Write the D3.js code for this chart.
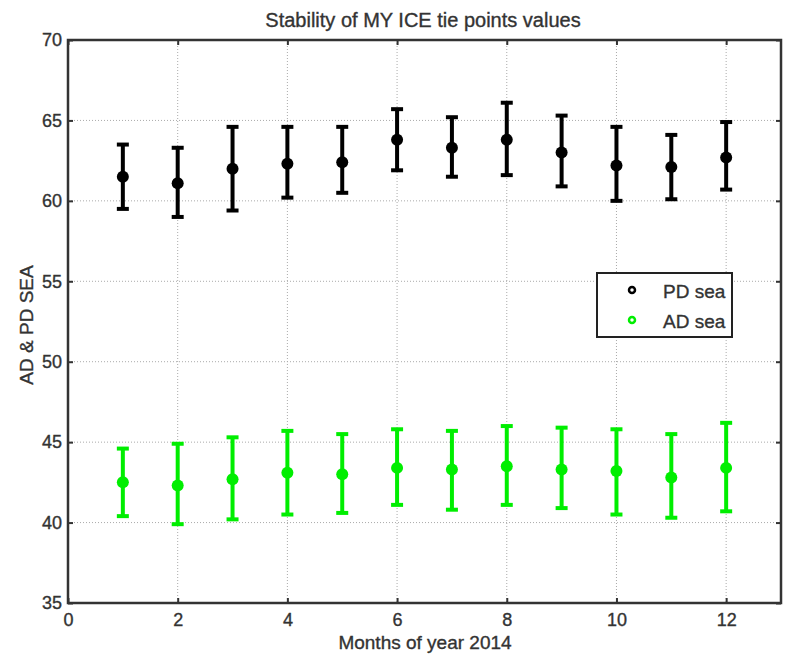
<!DOCTYPE html>
<html>
<head>
<meta charset="utf-8">
<script src="https://cdn.jsdelivr.net/npm/d3@7"></script>
<style>
  body { margin: 0; background: #fff; }
  text { font-family: "Liberation Sans", Arial, sans-serif; fill: #333; stroke: #333; stroke-width: 0.35px; }
</style>
</head>
<body>
<div class="mySvg"></div>
<script>
// months 1..12
const months = [1, 2, 3, 4, 5, 6, 7, 8, 9, 10, 11, 12];

// PD sea: mean, low, high
const pdMean = [61.5, 61.1, 62.0, 62.3, 62.4, 63.8, 63.3, 63.8, 63.0, 62.2, 62.1, 62.7];
const pdLow  = [59.5, 59.0, 59.4, 60.2, 60.5, 61.9, 61.5, 61.6, 60.9, 60.0, 60.1, 60.7];
const pdHigh = [63.5, 63.3, 64.6, 64.6, 64.6, 65.7, 65.2, 66.1, 65.3, 64.6, 64.1, 64.9];

// AD sea: mean, low, high
const adMean = [42.5, 42.3, 42.7, 43.1, 43.0, 43.4, 43.3, 43.5, 43.3, 43.2, 42.8, 43.4];
const adLow  = [40.4, 39.9, 40.2, 40.5, 40.6, 41.1, 40.8, 41.1, 40.9, 40.5, 40.3, 40.7];
const adHigh = [44.6, 44.9, 45.3, 45.7, 45.5, 45.8, 45.7, 46.0, 45.9, 45.8, 45.5, 46.2];

const xTicks = [0, 2, 4, 6, 8, 10, 12];
const yTicks = [35, 40, 45, 50, 55, 60, 65, 70];

const series = [
  {name: 'PD sea', color: '#000', mean: pdMean, low: pdLow, high: pdHigh},
  {name: 'AD sea', color: '#00ee00', mean: adMean, low: adLow, high: adHigh}
];

const W = 789, H = 663;
const margin = {top: 40, right: 8, bottom: 60, left: 68};
const width  = W - margin.left - margin.right;
const height = H - margin.top - margin.bottom;

const svg = d3.select('.mySvg').append('svg')
  .attr('width', W)
  .attr('height', H);

const g = svg.append('g')
  .attr('transform', 'translate(' + margin.left + ',' + margin.top + ')');

const xScale = d3.scaleLinear().domain([0, 13]).range([0, width]);
const yScale = d3.scaleLinear().domain([35, 70]).range([height, 0]);

// grid
g.append('g').selectAll('line')
  .data(xTicks.slice(1))
  .enter().append('line')
  .attr('x1', d => xScale(d)).attr('x2', d => xScale(d))
  .attr('y1', 0).attr('y2', height)
  .attr('stroke', '#aaa').attr('stroke-width', 1).attr('stroke-dasharray', '1,2');

g.append('g').selectAll('line')
  .data(yTicks.slice(1, -1))
  .enter().append('line')
  .attr('x1', 0).attr('x2', width)
  .attr('y1', d => yScale(d)).attr('y2', d => yScale(d))
  .attr('stroke', '#aaa').attr('stroke-width', 1).attr('stroke-dasharray', '1,2');

// axes (ticks inside)
const xAxis = d3.axisBottom(xScale).tickValues(xTicks).tickSizeInner(-5).tickSizeOuter(0).tickPadding(10);
const yAxis = d3.axisLeft(yScale).tickValues(yTicks).tickSizeInner(-5).tickSizeOuter(0).tickPadding(6);

g.append('g').attr('transform', 'translate(0,' + height + ')').call(xAxis);
g.append('g').call(yAxis);
g.append('g').call(d3.axisTop(xScale).tickValues(xTicks).tickSizeInner(-5).tickSizeOuter(0).tickFormat(''));
g.append('g').attr('transform', 'translate(' + width + ',0)')
  .call(d3.axisRight(yScale).tickValues(yTicks).tickSizeInner(-5).tickSizeOuter(0).tickFormat(''));

g.selectAll('.domain').remove();
g.selectAll('.tick line').attr('stroke', '#333').attr('stroke-width', 2);
g.selectAll('.tick text').style('font-size', '18px').style('fill', '#333');

// frame
g.append('rect')
  .attr('x', 0).attr('y', 0).attr('width', width).attr('height', height)
  .attr('fill', 'none').attr('stroke', '#333').attr('stroke-width', 2.5);

// error bars
series.forEach(function(s) {
  const sg = g.append('g');
  const rows = months.map((m, i) => ({m: m, mean: s.mean[i], low: s.low[i], high: s.high[i]}));
  sg.selectAll('.bar').data(rows).enter().append('line')
    .attr('x1', d => xScale(d.m)).attr('x2', d => xScale(d.m))
    .attr('y1', d => yScale(d.low)).attr('y2', d => yScale(d.high))
    .attr('stroke', s.color).attr('stroke-width', 4);
  sg.selectAll('.capTop').data(rows).enter().append('line')
    .attr('x1', d => xScale(d.m) - 6).attr('x2', d => xScale(d.m) + 6)
    .attr('y1', d => yScale(d.high)).attr('y2', d => yScale(d.high))
    .attr('stroke', s.color).attr('stroke-width', 4);
  sg.selectAll('.capBot').data(rows).enter().append('line')
    .attr('x1', d => xScale(d.m) - 6).attr('x2', d => xScale(d.m) + 6)
    .attr('y1', d => yScale(d.low)).attr('y2', d => yScale(d.low))
    .attr('stroke', s.color).attr('stroke-width', 4);
  sg.selectAll('circle').data(rows).enter().append('circle')
    .attr('cx', d => xScale(d.m)).attr('cy', d => yScale(d.mean))
    .attr('r', 6).attr('fill', s.color);
});

// title & labels
svg.append('text')
  .attr('x', 423).attr('y', 27)
  .attr('text-anchor', 'middle')
  .style('font-size', '20px')
  .text('Stability of MY ICE tie points values');

svg.append('text')
  .attr('x', 425).attr('y', 649)
  .attr('text-anchor', 'middle')
  .style('font-size', '19px')
  .text('Months of year 2014');

svg.append('text')
  .attr('transform', 'translate(33,325) rotate(-90)')
  .attr('text-anchor', 'middle')
  .style('font-size', '19px')
  .text('AD & PD SEA');

// legend
const lg = svg.append('g').attr('transform', 'translate(597,273)');
lg.append('rect').attr('width', 135).attr('height', 64)
  .attr('fill', '#fff').attr('stroke', '#222').attr('stroke-width', 2);
series.forEach(function(s, i) {
  lg.append('circle').attr('cx', 35).attr('cy', 17 + i * 30).attr('r', 3)
    .attr('fill', '#fff').attr('stroke', s.color).attr('stroke-width', 2.5);
  lg.append('text').attr('x', 66).attr('y', 25 + i * 30)
    .style('font-size', '19px').text(s.name);
});
</script>
</body>
</html>
